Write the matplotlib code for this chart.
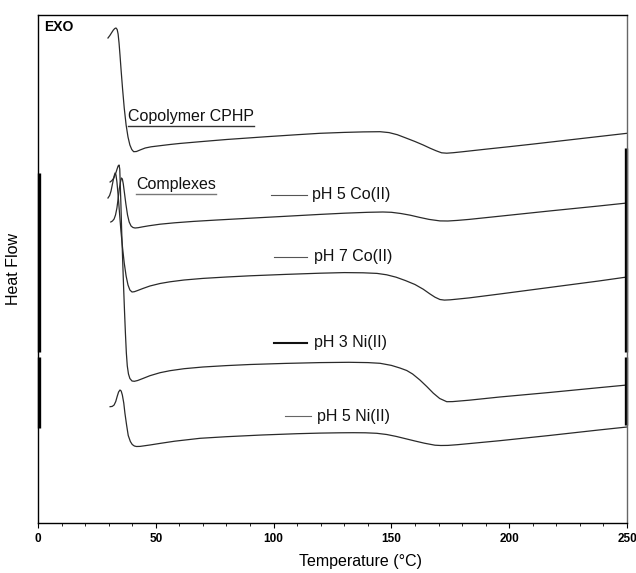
import matplotlib
matplotlib.use("Agg")
import matplotlib.pyplot as plt
import numpy as np

plt.rcParams['font.family'] = ['Liberation Sans', 'DejaVu Sans']

# ---- data (temperature in °C, heat flow in arbitrary units, offset traces) ----
cphp_T = [29.7, 30.5, 31.3, 32.0, 32.6, 33.1, 33.6, 34.0, 34.4, 34.8, 35.3, 35.9, 36.6, 37.4, 38.2,
          39.0, 39.8, 40.6, 41.8, 43.3, 45.5, 48.0, 51.8, 56.0, 60.0, 68.8, 80.0, 97.0, 110.0,
          119.7, 130.0, 138.0, 145.2, 149.0, 152.5, 156.5, 160.0, 163.5, 166.5, 169.0, 171.3,
          173.5, 176.3, 180.0, 190.0, 200.0, 210.0, 220.0, 230.0, 240.0, 250.0]
cphp_y = [485, 487.5, 490.5, 493, 494.5, 495, 493.5, 489, 480, 468, 452, 434, 415, 398, 386,
          378, 373.5, 371.3, 371.5, 373, 375, 376.2, 377.3, 378.5, 379.5, 381.3, 383.5, 386.3, 388.3,
          389.7, 390.6, 391.1, 391.3, 390.4, 388.3, 384.7, 381.5, 378, 374.7, 372.2, 370.2,
          369.8, 370.3, 371.2, 373.8, 376.3, 378.9, 381.6, 384.3, 387.0, 389.7]

co5_T = [30.9, 31.6, 32.3, 32.9, 33.5, 34.0, 34.5, 35.0, 35.4, 35.8, 36.2, 36.7, 37.3, 38.0,
         38.7, 39.5, 40.3, 41.2, 42.5, 44.5, 47.0, 51.8, 58.0, 66.0, 76.0, 90.0, 105.0, 119.7,
         130.0, 140.0, 146.4, 150.0, 154.0, 158.0, 162.0, 166.0, 170.6, 174.0, 178.0, 183.0,
         196.0, 217.0, 238.0, 250.0]
co5_y = [301, 302, 304, 308, 315, 324, 334, 341, 345, 344, 339, 330, 319, 308,
         301, 297, 295.5, 295, 295.3, 296.2, 297.2, 298.8, 300.2, 301.6, 303, 304.8, 306.7, 308.6,
         309.8, 310.7, 311, 310.7, 309.5, 307.8, 305.6, 303.6, 302.1, 302, 302.6, 303.6,
         306.8, 312, 317, 320]

co7_T = [29.7, 30.4, 31.0, 31.6, 32.2, 32.7, 33.1, 33.5, 34.0, 34.6, 35.2, 35.9, 36.6, 37.4,
         38.2, 39.0, 39.9, 40.9, 42.3, 44.5, 47.5, 51.8, 56.0, 62.0, 70.0, 80.0, 90.0, 105.0,
         119.7, 130.0, 138.0, 143.9, 148.0, 152.0, 156.0, 160.0, 163.5, 166.4, 168.5, 170.6,
         172.5, 175.0, 178.0, 183.0, 196.0, 217.0, 238.0, 250.0]
co7_y = [325, 327.5, 332, 339, 346, 350, 348, 341, 328, 310, 292, 275, 260, 247,
         238, 233, 231, 231.3, 232.5, 234.5, 237, 239.5, 241.2, 243, 244.6, 246, 247.2, 248.6,
         249.8, 250.4, 250.2, 249.6, 248.2, 245.8, 242.4, 238.5, 233.8, 229, 225.8, 223.5,
         222.9, 223.2, 223.9, 225.1, 229, 235.5, 242, 246]

ni3_T = [30.6, 31.4, 32.2, 32.9, 33.5, 34.0, 34.4, 34.7, 34.9, 35.2, 35.5, 35.9, 36.3, 36.7,
         37.1, 37.5, 37.9, 38.4, 39.0, 39.9, 40.9, 42.3, 44.5, 47.5, 51.8, 56.0, 62.0, 70.0,
         80.0, 90.0, 105.0, 119.7, 132.0, 140.0, 145.2, 150.0, 153.6, 156.5, 159.0, 162.1,
         165.0, 167.8, 170.5, 173.5, 176.0, 179.0, 183.0, 196.0, 217.0, 238.0, 250.0]
ni3_y = [341, 342.5, 345, 349, 353.5, 357, 358, 354, 340, 318, 293, 265, 238, 213,
         190, 170, 157, 149, 144.5, 142, 141.7, 142.5, 144.5, 147.3, 150.3, 152.3, 154.3, 156,
         157.4, 158.5, 159.6, 160.4, 160.7, 160.4, 159.7, 157.6, 155, 152.5, 149, 143,
         136.5, 129.8, 124.5, 121.3, 121.4, 122, 122.8, 126, 130.5, 135.3, 138]

ni5_T = [30.6, 31.5, 32.3, 33.0, 33.6, 34.2, 34.8, 35.3, 35.8, 36.4, 36.9, 37.6, 38.3, 39.2,
         40.0, 40.9, 41.8, 43.3, 45.4, 47.5, 51.8, 58.0, 68.8, 80.0, 95.0, 110.0, 119.7, 128.0,
         133.8, 139.0, 143.8, 148.0, 152.0, 156.0, 160.0, 164.0, 168.5, 171.0, 174.0, 178.0,
         183.0, 196.0, 217.0, 238.0, 250.0]
ni5_y = [116.3, 116.6, 118, 121.5, 126.5, 131, 133, 132, 128, 120, 109.7, 98, 87.5, 81.5,
         78.5, 77, 76.5, 76.6, 77.3, 78, 79.6, 81.8, 84.7, 86.3, 88, 89.3, 89.9, 90.2,
         90.3, 90.2, 89.7, 88.5, 86.6, 84.3, 82, 79.8, 77.8, 77.5, 77.6, 78.3,
         79.4, 82.3, 87.5, 93, 96]

x_ticks = [0, 50, 100, 150, 200, 250]
x_ticklabels = ['0', '50', '100', '150', '200', '250']

labels = ['pH 5 Co(II)', 'pH 7 Co(II)', 'pH 3 Ni(II)', 'pH 5 Ni(II)']

# ---- figure ----
W, H = 636, 573
fig = plt.figure(figsize=(W / 100, H / 100), dpi=100)
ax = fig.add_axes([38 / W, 50 / H, 589 / W, 508 / H])
ax.set_xlim(0, 250)
ax.set_ylim(0, 508)

curve_kw = dict(color='#2a2a2a', lw=0.9, solid_joinstyle='round')
ax.plot(cphp_T, cphp_y, **curve_kw)
ax.plot(co5_T, co5_y, **curve_kw)
ax.plot(co7_T, co7_y, **curve_kw)
ax.plot(ni3_T, ni3_y, **curve_kw)
ax.plot(ni5_T, ni5_y, **curve_kw)

# legend-like keys next to curves
key_specs = [
    (98.9, 114.2, 328, 116.3, '#555555', 0.8),
    (100.2, 114.2, 266, 117.1, '#555555', 0.8),
    (100.2, 114.2, 180, 117.1, '#111111', 1.5),
    (104.8, 115.7, 107, 118.4, '#666666', 0.8),
]
for (x0, x1, yk, xt, c, lw), lab in zip(key_specs, labels):
    ax.plot([x0, x1], [yk, yk], color=c, lw=lw)
    ax.text(xt, yk, lab, fontsize=11.5, va='center', ha='left', color='#111111')

t1 = ax.text(38.2, 406, 'Copolymer CPHP', fontsize=11.5, va='center', ha='left', color='#111111')
t2 = ax.text(41.6, 338, 'Complexes', fontsize=11.5, va='center', ha='left', color='#111111')
ax.text(2.6, 496, 'EXO', fontsize=10, fontweight='bold', va='center', ha='left')

# underline the two headings
fig.canvas.draw()
r = fig.canvas.get_renderer()
for t, col in ((t1, '#333333'), (t2, '#777777')):
    bb = t.get_window_extent(renderer=r)
    (xa, ya), (xb, yb) = ax.transData.inverted().transform([[bb.x0, bb.y0], [bb.x1, bb.y0]])
    ax.plot([xa, xb], [ya - 1.5, ya - 1.5], color=col, lw=1.0)

# heavy vertical bars on the side spines
bar_kw = dict(color='black', lw=2.4, solid_capstyle='butt', clip_on=False)
ax.plot([0.3, 0.3], [171, 350], **bar_kw)
ax.plot([0.3, 0.3], [95, 166], **bar_kw)
ax.plot([249.7, 249.7], [171, 375], **bar_kw)
ax.plot([249.7, 249.7], [98, 166], **bar_kw)

# axes styling
for s in ('top', 'left', 'bottom'):
    ax.spines[s].set_color('black')
    ax.spines[s].set_linewidth(1.0)
ax.spines['right'].set_color('#666666')
ax.spines['right'].set_linewidth(1.0)

ax.set_yticks([])
ax.set_xticks(x_ticks)
ax.set_xticklabels(x_ticklabels, fontweight='bold', fontsize=8.5)
ax.set_xticks(np.arange(10, 250, 10), minor=True)
ax.tick_params(axis='x', which='major', direction='out', length=3.5, width=0.8, pad=4)
ax.tick_params(axis='x', which='minor', direction='out', length=2.5, width=0.6)

ax.set_xlabel('Temperature (°C)', fontsize=11.5)
ax.xaxis.set_label_coords(0.547, -0.062)
ax.set_ylabel('Heat Flow', fontsize=11.5)
ax.yaxis.set_label_coords(-0.029, 0.5)

fig.savefig('out.png', dpi=100)
